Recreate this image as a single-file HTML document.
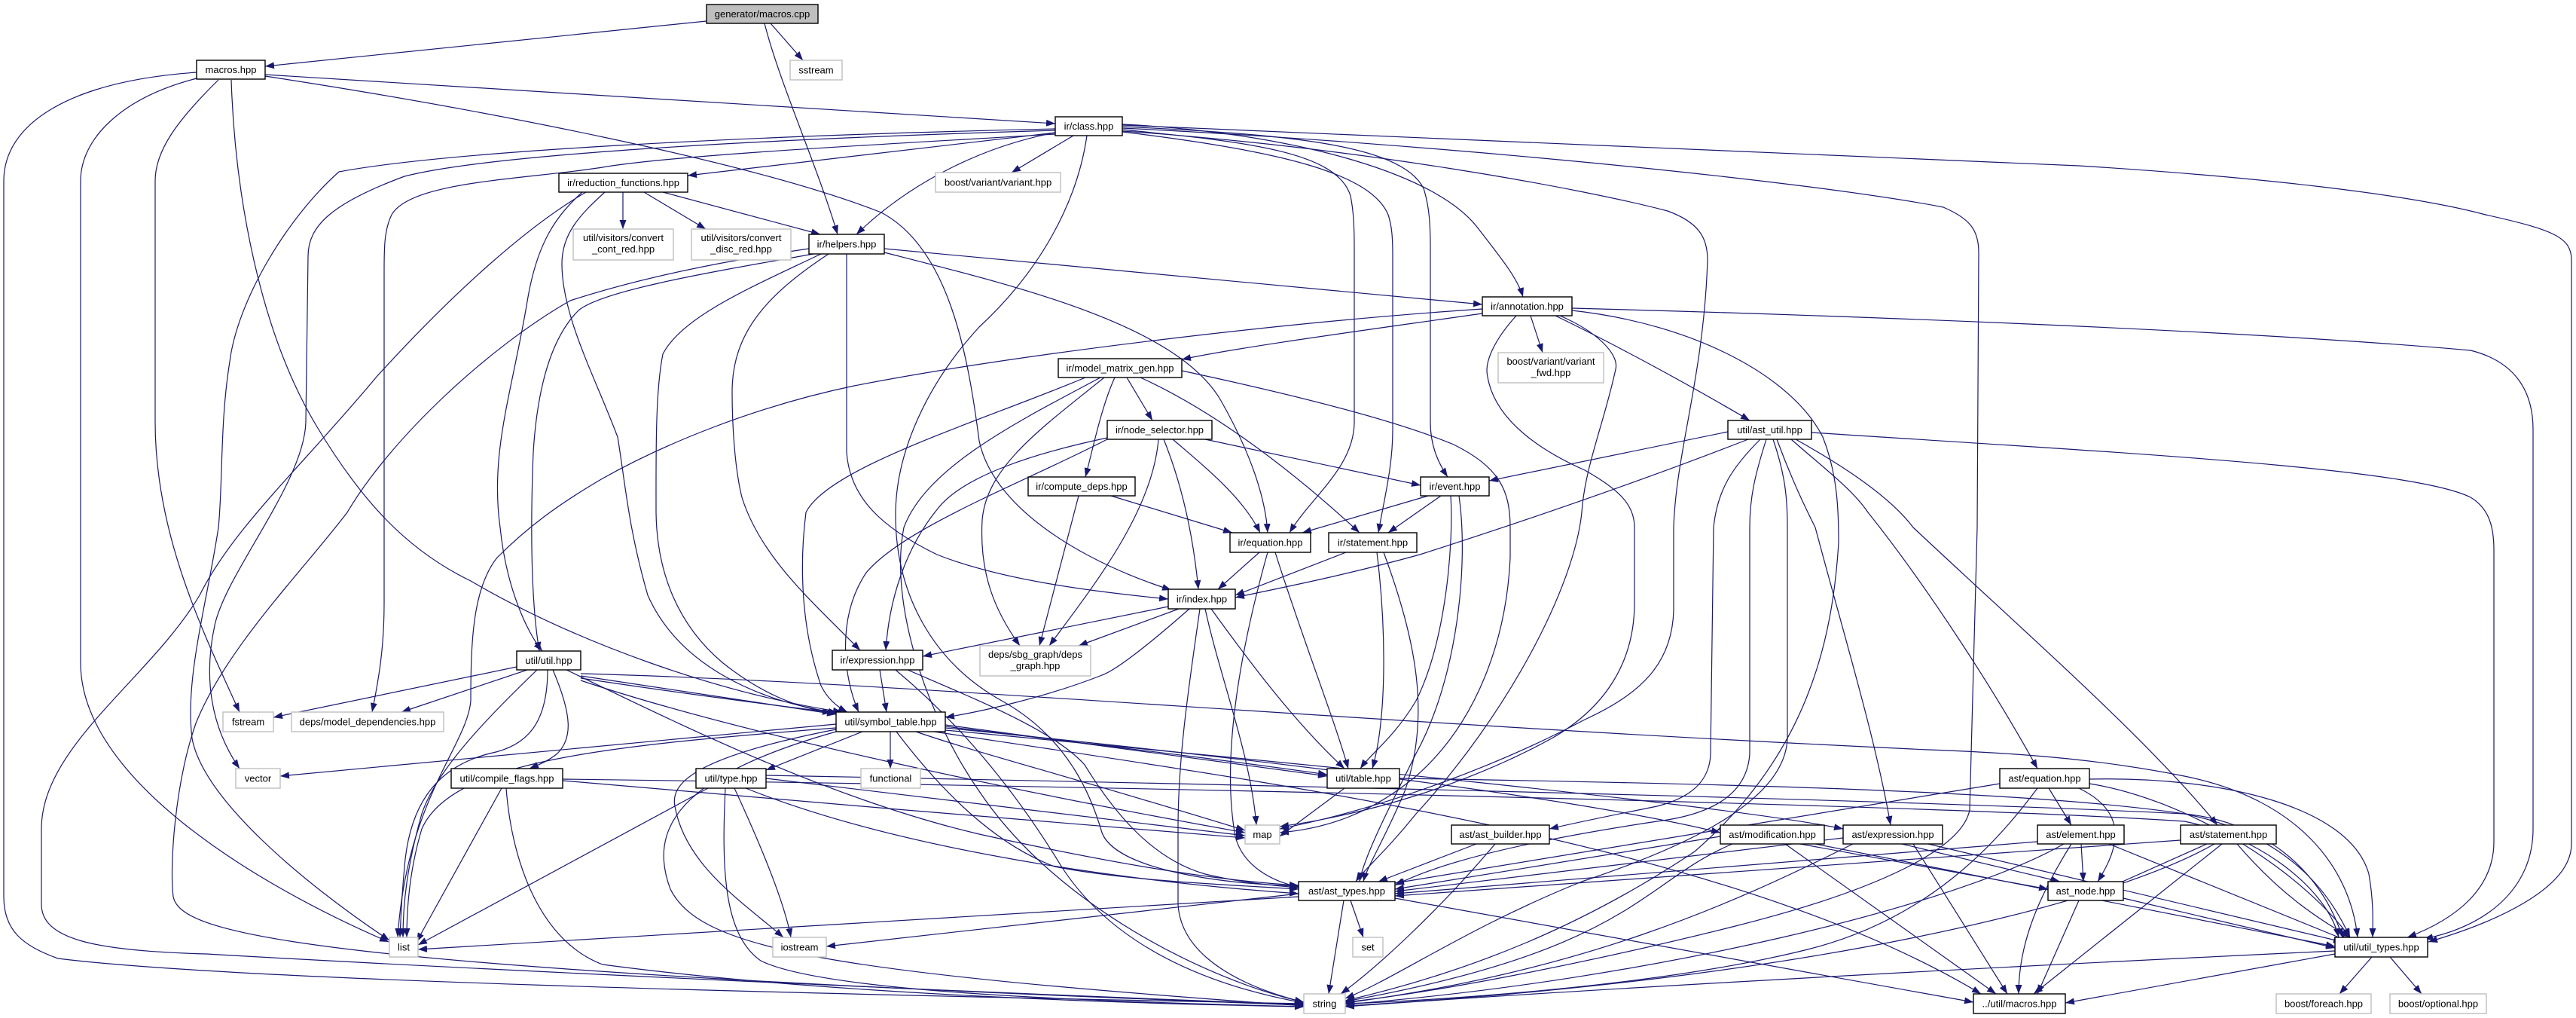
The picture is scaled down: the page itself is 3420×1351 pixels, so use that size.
<!DOCTYPE html>
<html><head><meta charset="utf-8"><style>
html,body{margin:0;padding:0;background:#fff;}
svg{display:block;}
text{font-family:"Liberation Sans",Arial,sans-serif;font-size:13px;fill:#000;}
.e{fill:none;stroke:#191970;stroke-width:1.2;marker-end:url(#a);}
.n{fill:#fff;stroke:#000;stroke-width:1.4;}
.x{fill:#fff;stroke:#bfbfbf;stroke-width:1.4;}
</style></head><body>
<svg width="3420" height="1351" viewBox="0 0 3420 1351" xmlns="http://www.w3.org/2000/svg">
<defs><marker id="a" viewBox="0 0 12 9" refX="12" refY="4.5" markerWidth="12" markerHeight="9" markerUnits="userSpaceOnUse" orient="auto"><path d="M0,0 L12,4.5 L0,9 z" fill="#191970"/></marker></defs>
<g>
<path class="e" d="M938,28 L352,88"/>
<path class="e" d="M1023,31 L1066,80"/>
<path class="e" d="M1015,31 C1035,110 1085,220 1112,311"/>
<path class="e" d="M352,99 L1401,164"/>
<path class="e" d="M352,101 C640,145 1000,215 1170,282 C1260,330 1285,470 1300,585 C1320,680 1450,750 1555,783"/>
<path class="e" d="M261,96 C90,108 5,165 5,240 L5,1190 C5,1235 30,1255 77,1272 C300,1300 1000,1318 1731,1332"/>
<path class="e" d="M261,104 C160,130 107,185 107,240 L107,880 C107,1030 330,1170 516,1250"/>
<path class="e" d="M290,106 C235,160 206,200 206,240 L206,560 C206,710 270,840 318,945"/>
<path class="e" d="M307,106 C312,260 345,440 420,565 C480,665 540,730 625,771 C760,850 950,920 1118,945"/>
<path class="e" d="M1401,176 L913,233"/>
<path class="e" d="M1425,180 L1343,229"/>
<path class="e" d="M1401,176 C1300,195 1205,245 1137,311"/>
<path class="e" d="M1401,171 C1000,180 600,200 450,228 C380,290 315,400 305,480 C292,560 296,640 290,700 C275,800 245,900 255,980 C270,1060 400,1170 517,1248"/>
<path class="e" d="M1401,173 C1000,185 650,205 537,234 C440,270 409,300 409,340 L406,560 C404,640 300,760 285,830 C270,900 280,965 318,1020"/>
<path class="e" d="M1401,178 C1200,190 900,205 800,222 C700,238 545,240 520,285 C510,305 510,330 510,360 L510,800 C510,860 503,900 494,945"/>
<path class="e" d="M1443,180 C1430,270 1380,360 1300,434 C1230,510 1190,600 1189,680 C1188,790 1240,880 1330,930 C1420,980 1450,1060 1463,1105 C1480,1150 1600,1172 1724,1176"/>
<path class="e" d="M1490,165 C1700,175 1900,225 1960,300 C1995,345 2015,370 2022,394"/>
<path class="e" d="M1490,168 C1700,178 1860,190 1890,250 C1898,275 1899,300 1899,330 L1899,560 C1899,595 1912,618 1922,633"/>
<path class="e" d="M1490,172 C1650,188 1775,200 1793,260 C1797,280 1798,300 1798,330 L1798,560 C1798,620 1740,660 1712,707"/>
<path class="e" d="M1490,175 C1700,200 1820,230 1843,285 C1848,300 1849,316 1849,340 L1849,570 C1849,620 1838,660 1830,707"/>
<path class="e" d="M1490,166 C2000,185 2500,205 2760,220 C3000,235 3200,258 3300,285 C3390,305 3414,315 3414,345 L3414,1120 C3414,1180 3310,1225 3224,1250"/>
<path class="e" d="M1490,170 C1900,190 2400,240 2580,275 C2615,290 2627,305 2627,335 L2625,700 L2615,1075 C2605,1125 2500,1180 2300,1230 C2100,1280 1900,1318 1786,1330"/>
<path class="e" d="M1490,174 C1800,195 2100,250 2214,280 C2255,295 2267,315 2267,345 C2262,500 2225,600 2222,700 L2222,810 C2220,880 2180,920 2104,955 C2000,1010 1850,1070 1699,1100"/>
<path class="e" d="M827,255 L827,304"/>
<path class="e" d="M855,255 L937,304"/>
<path class="e" d="M880,255 L1089,311"/>
<path class="e" d="M773,255 C740,285 713,320 700,400 C680,520 650,600 664,700 C672,780 700,840 720,864"/>
<path class="e" d="M778,255 C700,300 600,390 500,500 C400,620 310,700 265,790 C200,900 55,990 55,1100 L55,1200 C55,1245 120,1262 274,1266 C600,1285 1300,1318 1731,1333"/>
<path class="e" d="M803,255 C770,285 746,310 746,350 C746,420 790,500 820,580 C830,640 834,700 860,790 C900,880 1000,930 1112,946"/>
<path class="e" d="M1080,337 C950,360 800,385 768,412 C730,450 713,520 708,600 C704,700 705,800 716,864"/>
<path class="e" d="M1074,330 C900,355 800,385 757,399 C650,460 520,580 461,680 C400,760 300,860 260,960 C232,1040 225,1150 230,1190 C240,1240 400,1285 1731,1334"/>
<path class="e" d="M1090,337 C1000,380 905,420 880,470 C870,520 871,600 871,680 C872,760 900,830 960,880 C1010,920 1060,940 1104,946"/>
<path class="e" d="M1100,337 C1020,390 972,440 972,520 C972,560 975,620 985,660 C1010,740 1080,800 1142,863"/>
<path class="e" d="M1124,337 L1124,600 C1128,660 1170,700 1244,736 C1330,770 1450,785 1551,795"/>
<path class="e" d="M1174,330 L1968,404"/>
<path class="e" d="M1174,335 C1350,380 1560,430 1620,530 C1660,600 1680,660 1683,707"/>
<path class="e" d="M2032,419 L2048,468"/>
<path class="e" d="M1968,416 C1800,440 1650,460 1569,477"/>
<path class="e" d="M1968,410 C1700,428 1350,470 1134,512 C1000,540 880,590 800,635 C740,670 700,700 660,740 C628,780 625,850 625,930 C620,990 540,1060 528,1244"/>
<path class="e" d="M2065,419 C2150,460 2250,515 2323,558"/>
<path class="e" d="M2087,409 C2500,420 3000,440 3280,465 C3340,480 3363,520 3363,570 L3363,1100 C3363,1180 3300,1230 3218,1246"/>
<path class="e" d="M2087,412 C2250,430 2380,500 2420,580 C2440,630 2441,680 2441,720 C2433,850 2400,1000 2250,1130 C2100,1230 1950,1290 1786,1328"/>
<path class="e" d="M2071,419 C2120,440 2150,470 2145,490 C2130,560 2104,620 2100,680 C2090,780 2000,950 1880,1080 C1840,1130 1810,1155 1800,1170"/>
<path class="e" d="M2013,419 C1985,450 1970,480 1975,500 C1985,560 2050,600 2104,624 C2150,650 2170,670 2170,700 L2170,800 C2170,880 2130,940 2060,980 C1950,1040 1820,1080 1699,1097"/>
<path class="e" d="M1496,501 L1530,558"/>
<path class="e" d="M1480,501 C1462,540 1450,600 1441,633"/>
<path class="e" d="M1514,501 C1600,540 1700,610 1805,707"/>
<path class="e" d="M1569,492 C1700,520 1846,555 1930,590 C1990,620 2005,650 2005,700 L2005,740 C2000,850 1960,960 1880,1030 C1820,1080 1760,1100 1699,1105"/>
<path class="e" d="M1441,501 C1300,560 1100,620 1070,680 C1060,760 1066,840 1090,910 C1100,930 1115,940 1125,945"/>
<path class="e" d="M1461,501 C1350,560 1230,620 1200,700 C1180,800 1230,950 1300,1050 C1400,1200 1600,1300 1731,1330"/>
<path class="e" d="M1466,501 C1380,570 1310,620 1304,690 C1300,760 1320,810 1354,857"/>
<path class="e" d="M1600,583 L1886,644"/>
<path class="e" d="M1557,583 C1600,620 1650,660 1673,707"/>
<path class="e" d="M1545,583 C1572,650 1585,720 1591,782"/>
<path class="e" d="M1538,583 C1530,680 1450,780 1393,857"/>
<path class="e" d="M1470,581 C1380,600 1280,630 1245,675 C1200,730 1180,800 1176,863"/>
<path class="e" d="M1470,583 C1360,640 1200,700 1150,760 C1110,820 1120,900 1140,945"/>
<path class="e" d="M1475,658 L1636,707"/>
<path class="e" d="M1432,658 L1380,857"/>
<path class="e" d="M2294,573 L1977,638"/>
<path class="e" d="M2321,583 C2200,630 2060,680 1885,736 C1780,765 1700,780 1640,793"/>
<path class="e" d="M2337,583 C2300,620 2280,650 2275,700 L2271,1000 C2270,1040 2240,1060 2200,1070 C2150,1080 2100,1090 2057,1100"/>
<path class="e" d="M2345,583 C2330,630 2323,660 2323,700 L2323,1000 C2320,1050 2280,1080 2200,1090 C2000,1120 1900,1150 1852,1175"/>
<path class="e" d="M2354,583 C2370,630 2373,660 2373,700 L2373,980 C2370,1060 2250,1120 2100,1170 C1950,1230 1850,1300 1786,1325"/>
<path class="e" d="M2359,583 C2380,640 2400,680 2410,700 C2450,850 2490,980 2510,1095"/>
<path class="e" d="M2378,583 C2420,620 2460,650 2480,680 C2560,780 2650,920 2705,1020"/>
<path class="e" d="M2384,583 C2450,620 2510,660 2540,700 C2700,850 2850,980 2944,1095"/>
<path class="e" d="M2405,574 C2800,600 3200,620 3280,660 C3305,675 3311,700 3311,730 L3311,1117 C3311,1180 3260,1220 3196,1244"/>
<path class="e" d="M1896,658 L1729,707"/>
<path class="e" d="M1913,658 L1843,707"/>
<path class="e" d="M1926,658 C1930,720 1920,850 1880,930 C1850,980 1820,1000 1806,1020"/>
<path class="e" d="M1937,658 C1950,750 1935,900 1880,1000 C1840,1080 1810,1140 1805,1170"/>
<path class="e" d="M1672,733 L1617,782"/>
<path class="e" d="M1683,733 C1650,850 1620,1000 1640,1110 C1650,1150 1690,1170 1724,1177"/>
<path class="e" d="M1693,733 C1730,850 1770,950 1790,1020"/>
<path class="e" d="M1787,733 L1640,790"/>
<path class="e" d="M1828,733 C1840,830 1842,950 1822,1020"/>
<path class="e" d="M1837,733 C1880,850 1900,950 1865,1050 C1840,1110 1815,1150 1810,1170"/>
<path class="e" d="M1551,805 L1225,871"/>
<path class="e" d="M1565,808 L1432,857"/>
<path class="e" d="M1579,808 C1520,860 1480,890 1463,896 C1390,925 1300,945 1255,952"/>
<path class="e" d="M1593,808 C1580,900 1564,1000 1564,1100 L1564,1200 C1568,1270 1650,1310 1731,1330"/>
<path class="e" d="M1600,808 C1620,900 1660,1000 1668,1095"/>
<path class="e" d="M1608,808 C1660,880 1720,960 1785,1020"/>
<path class="e" d="M1168,889 L1177,945"/>
<path class="e" d="M1189,889 C1250,940 1330,1020 1408,1148 C1460,1230 1560,1300 1731,1331"/>
<path class="e" d="M1205,889 C1300,930 1400,970 1440,1015 C1480,1080 1530,1140 1600,1160 C1650,1172 1700,1176 1724,1178"/>
<path class="e" d="M686,885 L363,952"/>
<path class="e" d="M700,889 L533,945"/>
<path class="e" d="M713,889 C650,950 580,1020 560,1080 C540,1150 535,1200 535,1244"/>
<path class="e" d="M727,889 C727,960 700,990 650,1000 C570,1020 545,1080 538,1140 C533,1190 532,1220 531,1244"/>
<path class="e" d="M734,889 C760,950 760,980 740,1000 C725,1012 712,1016 703,1020"/>
<path class="e" d="M752,889 C900,960 1100,1060 1300,1107 C1450,1140 1600,1168 1724,1175"/>
<path class="e" d="M771,894 C1200,905 1800,960 2560,995 C2700,1000 2800,1010 2900,1030 C3050,1060 3120,1150 3130,1244"/>
<path class="e" d="M771,897 L1110,948"/>
<path class="e" d="M771,900 C1100,950 1500,990 1762,1028"/>
<path class="e" d="M771,903 C1000,980 1400,1060 1653,1105"/>
<path class="e" d="M1145,971 L1017,1022"/>
<path class="e" d="M1182,971 L1182,1020"/>
<path class="e" d="M1255,962 L1762,1030"/>
<path class="e" d="M1216,971 C1300,1000 1409,1027 1653,1102"/>
<path class="e" d="M1110,961 L372,1030"/>
<path class="e" d="M1110,966 C800,990 600,1010 560,1100 C545,1150 540,1200 540,1244"/>
<path class="e" d="M1110,968 C920,1005 890,1040 896,1070 C910,1150 990,1200 1040,1244"/>
<path class="e" d="M1110,971 C900,1030 860,1100 890,1180 C930,1260 1100,1290 1731,1335"/>
<path class="e" d="M1190,971 C1250,1050 1320,1120 1400,1150 C1500,1170 1650,1175 1724,1180"/>
<path class="e" d="M1255,966 C1700,1010 2100,1060 2284,1105"/>
<path class="e" d="M1255,969 C1800,1020 2300,1070 2447,1100"/>
<path class="e" d="M1240,971 C1700,1040 2300,1120 2630,1319"/>
<path class="e" d="M940,1046 L555,1254"/>
<path class="e" d="M975,1046 C1000,1100 1040,1190 1050,1244"/>
<path class="e" d="M963,1046 C958,1150 960,1240 1010,1275 C1100,1320 1500,1330 1731,1336"/>
<path class="e" d="M1017,1033 L1653,1109"/>
<path class="e" d="M990,1046 C1200,1130 1500,1170 1724,1186"/>
<path class="e" d="M1017,1029 C1600,1040 2500,1060 2900,1080 C3000,1090 3080,1150 3110,1244"/>
<path class="e" d="M666,1046 L553,1250"/>
<path class="e" d="M672,1046 C680,1150 720,1250 800,1280 C1100,1320 1500,1332 1731,1336"/>
<path class="e" d="M747,1036 C1000,1060 1400,1090 1653,1112"/>
<path class="e" d="M747,1034 C1600,1045 2600,1070 2900,1090 C3000,1110 3090,1180 3105,1244"/>
<path class="e" d="M1785,1046 L1699,1110"/>
<path class="e" d="M1858,1033 C2300,1040 2700,1050 2900,1080 C3050,1110 3100,1200 3120,1244"/>
<path class="e" d="M1960,1120 L1830,1170"/>
<path class="e" d="M1985,1120 C1900,1220 1820,1290 1780,1319"/>
<path class="e" d="M2284,1110 L1852,1180"/>
<path class="e" d="M2300,1120 C2180,1170 2170,1260 1786,1329"/>
<path class="e" d="M2390,1120 L2719,1180"/>
<path class="e" d="M2410,1120 L3100,1256"/>
<path class="e" d="M2370,1120 L2650,1319"/>
<path class="e" d="M2447,1112 L1852,1183"/>
<path class="e" d="M2460,1120 C2300,1200 2100,1290 1786,1331"/>
<path class="e" d="M2525,1120 L2735,1170"/>
<path class="e" d="M2560,1120 L3110,1250"/>
<path class="e" d="M2540,1120 L2665,1319"/>
<path class="e" d="M2720,1046 L2750,1095"/>
<path class="e" d="M2760,1046 C2830,1080 2810,1130 2785,1170"/>
<path class="e" d="M2655,1040 L1852,1172"/>
<path class="e" d="M2705,1046 C2650,1120 2560,1220 2400,1260 C2200,1310 1900,1328 1786,1332"/>
<path class="e" d="M2774,1040 C2900,1060 3050,1150 3120,1244"/>
<path class="e" d="M2774,1034 C2950,1030 3120,1070 3145,1160 C3152,1200 3150,1230 3150,1244"/>
<path class="e" d="M2763,1120 L2766,1170"/>
<path class="e" d="M2705,1117 L1852,1186"/>
<path class="e" d="M2740,1120 C2600,1200 2200,1300 1786,1333"/>
<path class="e" d="M2800,1120 L3120,1250"/>
<path class="e" d="M2750,1120 C2700,1200 2680,1260 2680,1319"/>
<path class="e" d="M2930,1120 L2800,1178"/>
<path class="e" d="M2895,1115 L1852,1189"/>
<path class="e" d="M2940,1120 C2800,1200 2400,1300 1786,1335"/>
<path class="e" d="M2950,1120 L2700,1319"/>
<path class="e" d="M2970,1120 C3030,1190 3080,1220 3120,1244"/>
<path class="e" d="M2819,1192 L3100,1258"/>
<path class="e" d="M2760,1195 L2705,1319"/>
<path class="e" d="M1724,1190 L555,1260"/>
<path class="e" d="M1724,1186 L1097,1256"/>
<path class="e" d="M1793,1195 L1810,1244"/>
<path class="e" d="M1784,1195 L1764,1319"/>
<path class="e" d="M1852,1192 L2620,1330"/>
<path class="e" d="M3100,1262 C2500,1290 2000,1320 1786,1336"/>
<path class="e" d="M3100,1266 L2742,1331"/>
<path class="e" d="M3149,1270 L3106,1319"/>
<path class="e" d="M3173,1270 L3215,1319"/>
</g>
<g>
<rect x="938" y="6" width="148" height="25" fill="#bfbfbf" stroke="#000" stroke-width="1.4"/><text x="1012" y="23" text-anchor="middle">generator/macros.cpp</text>
<rect class="n" x="261" y="80" width="91" height="25"/><text x="306.5" y="97" text-anchor="middle">macros.hpp</text>
<rect class="x" x="1049" y="80" width="69" height="26"/><text x="1083.5" y="97.5" text-anchor="middle">sstream</text>
<rect class="n" x="1401" y="155" width="89" height="25"/><text x="1445.5" y="172" text-anchor="middle">ir/class.hpp</text>
<rect class="n" x="742" y="230" width="171" height="25"/><text x="827.5" y="247" text-anchor="middle">ir/reduction_functions.hpp</text>
<rect class="x" x="1242" y="229" width="166" height="26"/><text x="1325" y="246.5" text-anchor="middle">boost/variant/variant.hpp</text>
<rect class="x" x="761" y="304" width="133" height="41"/><text x="827.5" y="320" text-anchor="middle">util/visitors/convert</text><text x="827.5" y="335" text-anchor="middle">_cont_red.hpp</text>
<rect class="x" x="918" y="304" width="132" height="41"/><text x="984" y="320" text-anchor="middle">util/visitors/convert</text><text x="984" y="335" text-anchor="middle">_disc_red.hpp</text>
<rect class="n" x="1074" y="311" width="100" height="26"/><text x="1124" y="328.5" text-anchor="middle">ir/helpers.hpp</text>
<rect class="n" x="1968" y="394" width="119" height="25"/><text x="2027.5" y="411" text-anchor="middle">ir/annotation.hpp</text>
<rect class="x" x="1989" y="468" width="140" height="40"/><text x="2059" y="484" text-anchor="middle">boost/variant/variant</text><text x="2059" y="499" text-anchor="middle">_fwd.hpp</text>
<rect class="n" x="1405" y="476" width="164" height="25"/><text x="1487" y="493" text-anchor="middle">ir/model_matrix_gen.hpp</text>
<rect class="n" x="1470" y="558" width="139" height="25"/><text x="1539.5" y="575" text-anchor="middle">ir/node_selector.hpp</text>
<rect class="n" x="2294" y="558" width="111" height="25"/><text x="2349.5" y="575" text-anchor="middle">util/ast_util.hpp</text>
<rect class="n" x="1365" y="633" width="142" height="25"/><text x="1436" y="650" text-anchor="middle">ir/compute_deps.hpp</text>
<rect class="n" x="1886" y="633" width="91" height="25"/><text x="1931.5" y="650" text-anchor="middle">ir/event.hpp</text>
<rect class="n" x="1633" y="707" width="107" height="26"/><text x="1686.5" y="724.5" text-anchor="middle">ir/equation.hpp</text>
<rect class="n" x="1764" y="707" width="117" height="26"/><text x="1822.5" y="724.5" text-anchor="middle">ir/statement.hpp</text>
<rect class="n" x="1551" y="782" width="89" height="26"/><text x="1595.5" y="799.5" text-anchor="middle">ir/index.hpp</text>
<rect class="n" x="1105" y="863" width="120" height="26"/><text x="1165" y="880.5" text-anchor="middle">ir/expression.hpp</text>
<rect class="x" x="1301" y="857" width="147" height="40"/><text x="1374.5" y="873" text-anchor="middle">deps/sbg_graph/deps</text><text x="1374.5" y="888" text-anchor="middle">_graph.hpp</text>
<rect class="n" x="686" y="864" width="85" height="25"/><text x="728.5" y="881" text-anchor="middle">util/util.hpp</text>
<rect class="x" x="296" y="945" width="67" height="26"/><text x="329.5" y="962.5" text-anchor="middle">fstream</text>
<rect class="x" x="387" y="945" width="202" height="26"/><text x="488" y="962.5" text-anchor="middle">deps/model_dependencies.hpp</text>
<rect class="n" x="1110" y="945" width="145" height="26"/><text x="1182.5" y="962.5" text-anchor="middle">util/symbol_table.hpp</text>
<rect class="x" x="313" y="1020" width="59" height="26"/><text x="342.5" y="1037.5" text-anchor="middle">vector</text>
<rect class="n" x="599" y="1020" width="148" height="26"/><text x="673" y="1037.5" text-anchor="middle">util/compile_flags.hpp</text>
<rect class="n" x="924" y="1020" width="93" height="26"/><text x="970.5" y="1037.5" text-anchor="middle">util/type.hpp</text>
<rect class="x" x="1143" y="1020" width="79" height="26"/><text x="1182.5" y="1037.5" text-anchor="middle">functional</text>
<rect class="n" x="1762" y="1020" width="96" height="26"/><text x="1810" y="1037.5" text-anchor="middle">util/table.hpp</text>
<rect class="n" x="2655" y="1020" width="119" height="26"/><text x="2714.5" y="1037.5" text-anchor="middle">ast/equation.hpp</text>
<rect class="x" x="1653" y="1095" width="46" height="25"/><text x="1676" y="1112" text-anchor="middle">map</text>
<rect class="n" x="1927" y="1095" width="130" height="25"/><text x="1992" y="1112" text-anchor="middle">ast/ast_builder.hpp</text>
<rect class="n" x="2284" y="1095" width="138" height="25"/><text x="2353" y="1112" text-anchor="middle">ast/modification.hpp</text>
<rect class="n" x="2447" y="1095" width="132" height="25"/><text x="2513" y="1112" text-anchor="middle">ast/expression.hpp</text>
<rect class="n" x="2705" y="1095" width="115" height="25"/><text x="2762.5" y="1112" text-anchor="middle">ast/element.hpp</text>
<rect class="n" x="2895" y="1095" width="127" height="25"/><text x="2958.5" y="1112" text-anchor="middle">ast/statement.hpp</text>
<rect class="n" x="1724" y="1170" width="128" height="25"/><text x="1788" y="1187" text-anchor="middle">ast/ast_types.hpp</text>
<rect class="n" x="2719" y="1170" width="100" height="25"/><text x="2769" y="1187" text-anchor="middle">ast_node.hpp</text>
<rect class="x" x="517" y="1244" width="38" height="26"/><text x="536" y="1261.5" text-anchor="middle">list</text>
<rect class="x" x="1026" y="1244" width="71" height="26"/><text x="1061.5" y="1261.5" text-anchor="middle">iostream</text>
<rect class="x" x="1796" y="1244" width="40" height="26"/><text x="1816" y="1261.5" text-anchor="middle">set</text>
<rect class="n" x="3100" y="1244" width="123" height="26"/><text x="3161.5" y="1261.5" text-anchor="middle">util/util_types.hpp</text>
<rect class="x" x="1731" y="1319" width="55" height="26"/><text x="1758.5" y="1336.5" text-anchor="middle">string</text>
<rect class="n" x="2620" y="1319" width="122" height="26"/><text x="2681" y="1336.5" text-anchor="middle">../util/macros.hpp</text>
<rect class="x" x="3022" y="1319" width="126" height="26"/><text x="3085" y="1336.5" text-anchor="middle">boost/foreach.hpp</text>
<rect class="x" x="3173" y="1319" width="128" height="26"/><text x="3237" y="1336.5" text-anchor="middle">boost/optional.hpp</text>
</g>
</svg>
</body></html>
